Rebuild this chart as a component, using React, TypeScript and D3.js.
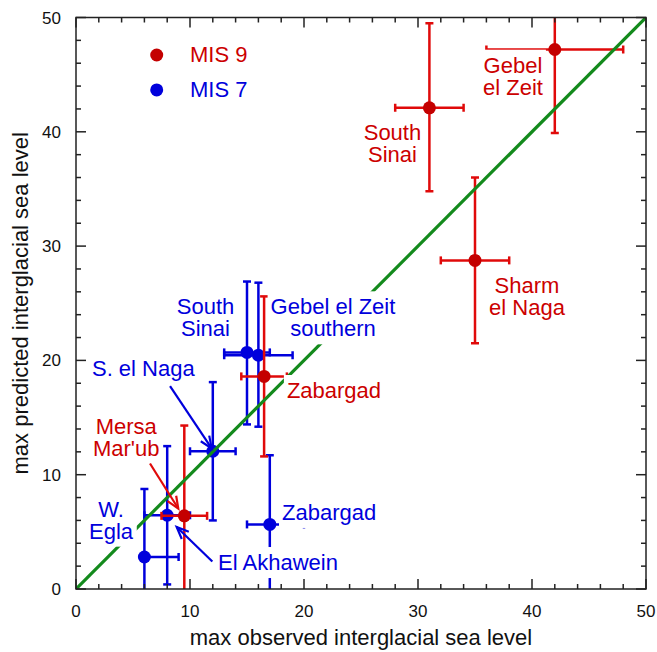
import React, { useEffect, useRef } from "react";
import * as d3 from "d3";

// MIS 9 sites: observed (x) vs predicted (y) max sea level with error ranges
const mis9Names = ["Gebel el Zeit", "South Sinai", "Sharm el Naga", "Zabargad", "Mersa Mar'ub"];
const mis9X = [42, 31, 35, 16.5, 9.5];
const mis9Y = [47.2, 42.1, 28.75, 18.6, 6.4];
const mis9XLo = [36, 28, 32, 14.5, 7.5];
const mis9XHi = [48, 34, 38, 18.5, 11.5];
const mis9YLo = [39.9, 34.8, 21.5, 11.6, -1.5];
const mis9YHi = [54.5, 49.5, 36.0, 25.6, 14.3];

// MIS 7 sites
const mis7Names = ["W. Egla", "El Akhawein", "S. el Naga", "South Sinai", "Gebel el Zeit southern", "Zabargad"];
const mis7X = [6, 8, 12, 15, 16, 17];
const mis7Y = [2.8, 6.45, 12.05, 20.7, 20.45, 5.65];
const mis7XLo = [6, 6, 10, 13, 13, 15];
const mis7XHi = [9, 10, 14, 17, 19, 20];
const mis7YLo = [-3.2, 0.4, 6.0, 14.4, 14.2, -0.5];
const mis7YHi = [8.75, 12.5, 18.1, 26.9, 26.8, 11.7];

// Axis ticks
const majorTicks = [0, 10, 20, 30, 40, 50];
const minorTicks = d3.range(0, 51, 2);

// Site labels (data coordinates of the first baseline)
const labelText = [
  ["Gebel", "el Zeit"],
  ["South", "Sinai"],
  ["Sharm", "el Naga"],
  ["Zabargad"],
  ["Mersa", "Mar'ub"],
  ["S. el Naga"],
  ["South", "Sinai"],
  ["Gebel el Zeit", "southern"],
  ["W.", "Egla"],
  ["El Akhawein"],
  ["Zabargad"],
];
const labelX = [38.33, 27.76, 39.56, 18.5, 4.41, 1.4, 11.36, 22.54, 3.07, 12.46, 18.07];
const labelY = [45.17, 39.28, 25.92, 16.71, 13.56, 18.66, 24.03, 24.03, 6.33, 1.66, 6.04];
const labelAnchor = ["middle", "middle", "middle", "start", "middle", "start", "middle", "middle", "middle", "start", "start"];
const labelSeries = [9, 9, 9, 9, 9, 7, 7, 7, 7, 7, 7];

// Pointer arrows: from (x0,y0) to tip (x1,y1)
const arrowX0 = [6.49, 8.25, 11.96];
const arrowY0 = [10.98, 17.75, 2.41];
const arrowX1 = [8.97, 11.9, 8.83];
const arrowY1 = [7.04, 12.3, 5.42];
const arrowSeries = [9, 7, 7];

const RED_LINE = "#e00a0a";
const RED_DOT = "#c40000";
const RED_TEXT = "#cc0000";
const BLUE = "#0000dc";
const GREEN = "#138a1c";

export default function App() {
  const ref = useRef<SVGSVGElement>(null);

  useEffect(() => {
    const svg = d3.select(ref.current);
    svg.selectAll("*").remove();

    const left = 76, right = 646, top = 17.5, bottom = 589;
    const x = d3.scaleLinear().domain([0, 50]).range([left, right]);
    const y = d3.scaleLinear().domain([0, 50]).range([bottom, top]);

    svg.append("defs").append("clipPath").attr("id", "plot-clip")
      .append("rect").attr("x", left).attr("y", top)
      .attr("width", right - left).attr("height", bottom - top);

    const plot = svg.append("g").attr("clip-path", "url(#plot-clip)");

    const drawSeries = (xs: number[], ys: number[], xlo: number[], xhi: number[], ylo: number[], yhi: number[], lineColor: string, dotColor: string) => {
      const g = plot.append("g").attr("stroke", lineColor).attr("stroke-width", 2.5).attr("fill", "none");
      const cap = 4;
      xs.forEach((xv, i) => {
        const cx = x(xv), cy = y(ys[i]);
        // horizontal bar with end caps
        g.append("line").attr("x1", x(xlo[i])).attr("x2", x(xhi[i])).attr("y1", cy).attr("y2", cy);
        if (xlo[i] < xv) g.append("line").attr("x1", x(xlo[i])).attr("x2", x(xlo[i])).attr("y1", cy - cap).attr("y2", cy + cap);
        if (xhi[i] > xv) g.append("line").attr("x1", x(xhi[i])).attr("x2", x(xhi[i])).attr("y1", cy - cap).attr("y2", cy + cap);
        // vertical bar with end caps
        g.append("line").attr("x1", cx).attr("x2", cx).attr("y1", y(ylo[i])).attr("y2", y(yhi[i]));
        g.append("line").attr("x1", cx - cap).attr("x2", cx + cap).attr("y1", y(ylo[i])).attr("y2", y(ylo[i]));
        g.append("line").attr("x1", cx - cap).attr("x2", cx + cap).attr("y1", y(yhi[i])).attr("y2", y(yhi[i]));
      });
      plot.append("g").selectAll("circle").data(xs).join("circle")
        .attr("cx", (d) => x(d)).attr("cy", (_d, i) => y(ys[i])).attr("r", 6.5).attr("fill", dotColor);
    };

    drawSeries(mis7X, mis7Y, mis7XLo, mis7XHi, mis7YLo, mis7YHi, BLUE, BLUE);
    drawSeries(mis9X, mis9Y, mis9XLo, mis9XHi, mis9YLo, mis9YHi, RED_LINE, RED_DOT);

    // 1:1 line
    plot.append("line").attr("x1", x(0)).attr("y1", y(0)).attr("x2", x(50)).attr("y2", y(50))
      .attr("stroke", GREEN).attr("stroke-width", 3.2);

    // Frame and ticks (inward, mirrored on all sides)
    const axes = svg.append("g").attr("stroke", "#222").attr("stroke-width", 1.5);
    axes.append("rect").attr("x", left).attr("y", top).attr("width", right - left).attr("height", bottom - top).attr("fill", "none");
    minorTicks.forEach((t) => {
      const len = t % 10 === 0 ? 10 : 5;
      axes.append("line").attr("x1", x(t)).attr("x2", x(t)).attr("y1", bottom).attr("y2", bottom - len);
      axes.append("line").attr("x1", x(t)).attr("x2", x(t)).attr("y1", top).attr("y2", top + len);
      axes.append("line").attr("y1", y(t)).attr("y2", y(t)).attr("x1", left).attr("x2", left + len);
      axes.append("line").attr("y1", y(t)).attr("y2", y(t)).attr("x1", right).attr("x2", right - len);
    });

    const font = "Liberation Sans, Arial, Helvetica, sans-serif";
    const tl = svg.append("g").attr("font-family", font).attr("font-size", 17).attr("fill", "#111");
    majorTicks.forEach((t) => {
      tl.append("text").attr("x", x(t)).attr("y", 617).attr("text-anchor", "middle").text(t);
      tl.append("text").attr("x", 61).attr("y", y(t) + 6).attr("text-anchor", "end").text(t);
    });

    svg.append("text").attr("x", (left + right) / 2).attr("y", 645).attr("text-anchor", "middle")
      .attr("font-family", font).attr("font-size", 22).attr("fill", "#111")
      .text("max observed interglacial sea level");
    svg.append("text").attr("transform", `translate(28,${(top + bottom) / 2}) rotate(-90)`).attr("text-anchor", "middle")
      .attr("font-family", font).attr("font-size", 22).attr("fill", "#111")
      .text("max predicted interglacial sea level");

    // Site labels with white knock-out boxes
    const labels = svg.append("g").attr("font-family", font).attr("font-size", 22);
    labelText.forEach((lines, i) => {
      const g = labels.append("g");
      const rect = g.append("rect").attr("fill", "white");
      const t = g.append("text").attr("text-anchor", labelAnchor[i])
        .attr("fill", labelSeries[i] === 9 ? RED_TEXT : BLUE);
      lines.forEach((ln, j) => {
        t.append("tspan").attr("x", x(labelX[i])).attr("y", y(labelY[i]) + j * 22).text(ln);
      });
      const bb = (t.node() as SVGTextElement).getBBox();
      const pad = 3;
      rect.attr("x", bb.x - pad).attr("y", bb.y - pad).attr("width", bb.width + 2 * pad).attr("height", bb.height + 2 * pad);
    });

    // Pointer arrows
    arrowX0.forEach((_v, i) => {
      const col = arrowSeries[i] === 9 ? RED_LINE : BLUE;
      const x0 = x(arrowX0[i]), y0 = y(arrowY0[i]), x1 = x(arrowX1[i]), y1 = y(arrowY1[i]);
      const ang = Math.atan2(y1 - y0, x1 - x0);
      const hl = 13, ha = 0.4;
      const g = svg.append("g").attr("stroke", col).attr("stroke-width", 2.2).attr("fill", "none");
      g.append("line").attr("x1", x0).attr("y1", y0).attr("x2", x1).attr("y2", y1);
      g.append("path").attr("d",
        `M${x1 - hl * Math.cos(ang - ha)},${y1 - hl * Math.sin(ang - ha)}L${x1},${y1}L${x1 - hl * Math.cos(ang + ha)},${y1 - hl * Math.sin(ang + ha)}`);
    });

    // Legend
    const legend = svg.append("g").attr("font-family", font).attr("font-size", 22);
    const legendItems = [
      { label: "MIS 9", dot: RED_DOT, text: RED_TEXT, yv: 46.72 },
      { label: "MIS 7", dot: BLUE, text: BLUE, yv: 43.66 },
    ];
    legendItems.forEach((it) => {
      legend.append("circle").attr("cx", x(7.08)).attr("cy", y(it.yv)).attr("r", 6.5).attr("fill", it.dot);
      legend.append("text").attr("x", x(10)).attr("y", y(it.yv) + 7.5).attr("fill", it.text).text(it.label);
    });
  }, []);

  return (
    <svg ref={ref} width={657} height={652} style={{ display: "block", position: "absolute", left: 0, top: 0, background: "white" }} />
  );
}
